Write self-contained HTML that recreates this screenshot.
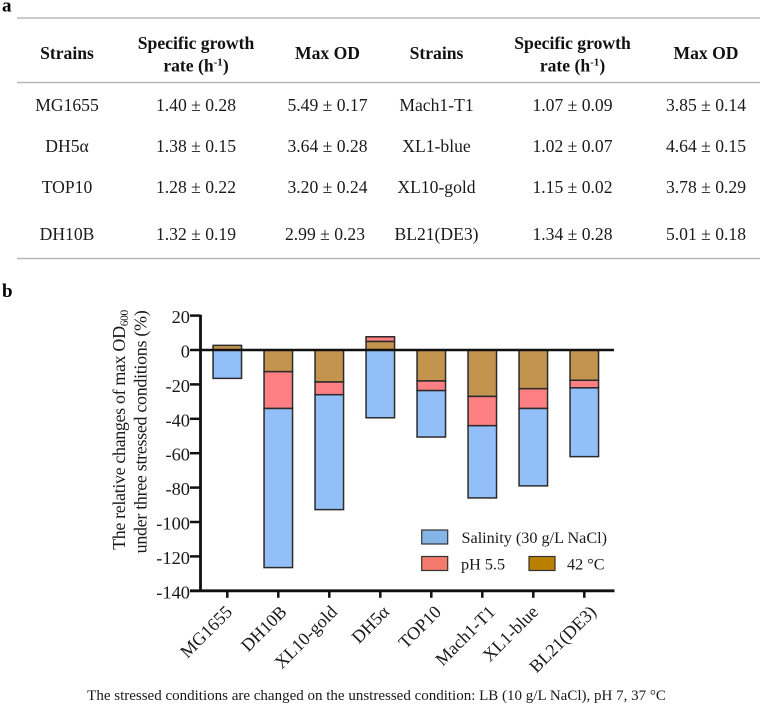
<!DOCTYPE html>
<html lang="en">
<head>
<meta charset="utf-8">
<title>Strain growth table and stress response chart</title>
<style>
html,body{margin:0;padding:0;background:#fff;}
body{width:761px;height:705px;overflow:hidden;}
svg{display:block;filter:blur(0.3px);}
text{font-family:"Liberation Serif",serif;fill:#1a1a1a;}
.hd{font-weight:bold;font-size:17.6px;text-anchor:middle;fill:#111;}
.cell{font-size:17.6px;text-anchor:middle;}
.panel{font-weight:bold;font-size:19px;fill:#000;}
.rule{stroke:#b8b8b8;stroke-width:1.4;}
.lg{font-size:16.2px;}
</style>
</head>
<body>
<svg id="figure" width="761" height="705" viewBox="0 0 761 705" xmlns="http://www.w3.org/2000/svg">
  <text class="panel" x="2" y="11.5">a</text>
  <line class="rule" x1="17" y1="18" x2="760" y2="18"/>
  <line class="rule" x1="17" y1="82.5" x2="760" y2="82.5"/>
  <line class="rule" x1="17" y1="258.5" x2="760" y2="258.5"/>

  <g>
    <text class="hd" x="67" y="59">Strains</text>
    <text class="hd" x="196" y="49">Specific growth</text>
    <text class="hd" x="196" y="71.5">rate (h<tspan font-size="11" dy="-6">-1</tspan><tspan dy="6">)</tspan></text>
    <text class="hd" x="327.5" y="59">Max OD</text>
    <text class="hd" x="436.5" y="59">Strains</text>
    <text class="hd" x="572.5" y="49">Specific growth</text>
    <text class="hd" x="572.5" y="71.5">rate (h<tspan font-size="11" dy="-6">-1</tspan><tspan dy="6">)</tspan></text>
    <text class="hd" x="706" y="59">Max OD</text>
  </g>

  <g>
    <text class="cell" x="67" y="111">MG1655</text>
    <text class="cell" x="196" y="111">1.40 ± 0.28</text>
    <text class="cell" x="327.5" y="111">5.49 ± 0.17</text>
    <text class="cell" x="436.5" y="111">Mach1-T1</text>
    <text class="cell" x="572.5" y="111">1.07 ± 0.09</text>
    <text class="cell" x="706" y="111">3.85 ± 0.14</text>
  </g>
  <g>
    <text class="cell" x="67" y="152">DH5α</text>
    <text class="cell" x="196" y="152">1.38 ± 0.15</text>
    <text class="cell" x="327.5" y="152">3.64 ± 0.28</text>
    <text class="cell" x="436.5" y="152">XL1-blue</text>
    <text class="cell" x="572.5" y="152">1.02 ± 0.07</text>
    <text class="cell" x="706" y="152">4.64 ± 0.15</text>
  </g>
  <g>
    <text class="cell" x="67" y="193">TOP10</text>
    <text class="cell" x="196" y="193">1.28 ± 0.22</text>
    <text class="cell" x="327.5" y="193">3.20 ± 0.24</text>
    <text class="cell" x="436.5" y="193">XL10-gold</text>
    <text class="cell" x="572.5" y="193">1.15 ± 0.02</text>
    <text class="cell" x="706" y="193">3.78 ± 0.29</text>
  </g>
  <g>
    <text class="cell" x="67" y="240">DH10B</text>
    <text class="cell" x="196" y="240">1.32 ± 0.19</text>
    <text class="cell" x="325" y="240">2.99 ± 0.23</text>
    <text class="cell" x="436.5" y="240">BL21(DE3)</text>
    <text class="cell" x="572.5" y="240">1.34 ± 0.28</text>
    <text class="cell" x="706" y="240">5.01 ± 0.18</text>
  </g>

  <text class="panel" x="2" y="297">b</text>

  <g id="chart"></g>

  <g>
    <text transform="translate(125,430) rotate(-90)" text-anchor="middle" font-size="18" letter-spacing="-0.36">The relative changes of max OD<tspan font-size="11.5" dy="3">600</tspan></text>
    <text transform="translate(146.5,432) rotate(-90)" text-anchor="middle" font-size="18" letter-spacing="-0.32">under three stressed conditions (%)</text>
  </g>

  <g>
    <rect x="421.7" y="530" width="26" height="14" fill="#85b4e6" stroke="#333" stroke-width="1.2"/>
    <text class="lg" x="461.5" y="543">Salinity (30 g/L NaCl)</text>
    <rect x="421.7" y="556.5" width="26" height="14" fill="#f47a6e" stroke="#333" stroke-width="1.2"/>
    <text class="lg" x="461" y="569.5">pH 5.5</text>
    <rect x="529" y="556.5" width="26" height="14" fill="#b98000" stroke="#333" stroke-width="1.2"/>
    <text class="lg" x="567" y="569.5">42 °C</text>
  </g>

  <text x="376.5" y="700" text-anchor="middle" font-size="15">The stressed conditions are changed on the unstressed condition: LB (10 g/L NaCl), pH 7, 37 °C</text>
</svg>

<script>
const categories = ["MG1655", "DH10B", "XL10-gold", "DH5α", "TOP10", "Mach1-T1", "XL1-blue", "BL21(DE3)"];
const tempValues = [2.7, -12.6, -18.6, 5, -18, -27, -22.5, -17.6];
const phValues = [0, -21.4, -7.4, 2.7, -5.6, -17, -11.5, -4.4];
const salinityValues = [-16.5, -92.5, -66.8, -39.4, -27, -42, -45, -40];
const yTicks = [20, 0, -20, -40, -60, -80, -100, -120, -140];

const NS = "http://www.w3.org/2000/svg";
const chart = document.getElementById("chart");
const yAt = function (v) { return 350 - v * 1.72; };
const xAt = function (i) { return 227.3 + i * 51; };
const BAR_W = 28.5;
const labelOffset = function (i) { return [6, 9.5, 9, 10, 11, 14, 6, 13][i]; };

function make(tag, attrs, parent) {
  const el = document.createElementNS(NS, tag);
  Object.keys(attrs).forEach(function (k) { el.setAttribute(k, attrs[k]); });
  parent.appendChild(el);
  return el;
}

function drawSegment(i, from, to, color, seriesName) {
  if (from === to) return;
  const top = Math.min(yAt(from), yAt(to));
  const h = Math.abs(yAt(from) - yAt(to));
  const r = make("rect", { x: xAt(i) - BAR_W / 2, y: top, width: BAR_W, height: h, fill: color, stroke: "#2b2b2b", "stroke-width": 1.5 }, chart);
  
  
}

categories.forEach(function (c, i) {
  let neg = 0, pos = 0;
  const stack = [
    [tempValues[i], "#c2944e", "temperature"],
    [phValues[i], "#ff8082", "ph"],
    [salinityValues[i], "#92bff8", "salinity"]
  ];
  stack.forEach(function (s) {
    const v = s[0];
    if (v < 0) { drawSegment(i, neg, neg + v, s[1], s[2]); neg += v; }
    else if (v > 0) { drawSegment(i, pos, pos + v, s[1], s[2]); pos += v; }
  });
});

const zero = make("line", { x1: 200, y1: yAt(0), x2: 614, y2: yAt(0), stroke: "#111", "stroke-width": 2.4 }, chart);



const yAxis = make("line", { x1: 200.5, y1: yAt(20) - 1, x2: 200.5, y2: yAt(-140) + 1, stroke: "#111", "stroke-width": 2.8 }, chart);



const xAxis = make("line", { x1: 190, y1: yAt(-140), x2: 614.5, y2: yAt(-140), stroke: "#111", "stroke-width": 2.8 }, chart);



yTicks.forEach(function (t) {
  const tick = make("line", { x1: 190, y1: yAt(t), x2: 200, y2: yAt(t), stroke: "#111", "stroke-width": 2.5 }, chart);
  
  
  const label = make("text", { x: 190, y: yAt(t) + 7.5, "text-anchor": "end", "font-size": 18.4 }, chart);
  
  
  label.textContent = String(t);
});

categories.forEach(function (c, i) {
  const tick = make("line", { x1: xAt(i), y1: yAt(-140), x2: xAt(i), y2: yAt(-140) + 7, stroke: "#111", "stroke-width": 2.5 }, chart);
  
  
  const label = make("text", { transform: "translate(" + (xAt(i) + labelOffset(i)) + ",613) rotate(-45)", "text-anchor": "end", "font-size": 18 }, chart);
  
  
  label.textContent = c;
});
</script>
</body>
</html>
